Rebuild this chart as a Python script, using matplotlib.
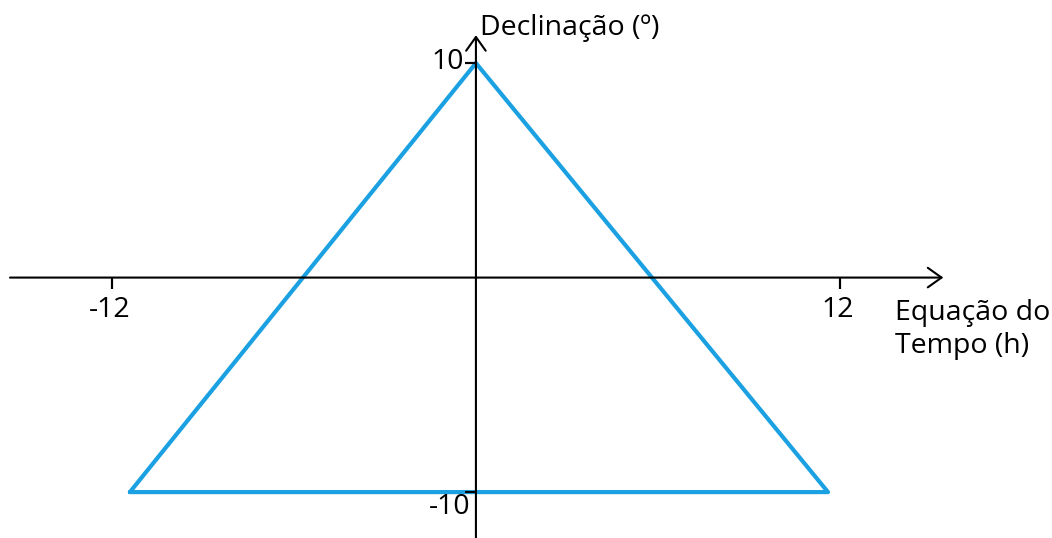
import matplotlib
matplotlib.use('Agg')
import matplotlib.pyplot as plt

# triangle: equation of time (h) vs declination (deg)
eq_tempo = [-11.4, 0.0, 11.6, -11.4]
declinacao = [-10.0, 10.0, -10.0, -10.0]

x_ticks = [-12, 12]
x_tick_labels = ['-12', '12']
y_ticks = [10, -10]
y_tick_labels = ['10', '-10']

x_axis_range = (-15.35, 15.4)
y_axis_range = (-12.2, 11.3)

x_label = 'Equação do\nTempo (h)'
y_label = 'Declinação (º)'

plt.rcParams['font.family'] = ['Open Sans', 'DejaVu Sans']

fig = plt.figure(figsize=(10.52, 5.38), dpi=100)
ax = fig.add_axes([0, 0, 1, 1])
ax.set_xlim(-15.68, 18.98)
ax.set_ylim(-12.14, 12.94)
ax.axis('off')

blue = '#1BA1E2'
ax.plot(eq_tempo, declinacao, color=blue, lw=3, solid_joinstyle='round',
        solid_capstyle='round', zorder=3)

arrow = dict(arrowstyle='->, head_length=0.45, head_width=0.32', lw=1.5,
             color='black', mutation_scale=22, shrinkA=0, shrinkB=0)
ax.annotate('', xy=(x_axis_range[1], 0), xytext=(x_axis_range[0], 0), arrowprops=arrow)
ax.annotate('', xy=(0, y_axis_range[1]), xytext=(0, y_axis_range[0]), arrowprops=arrow)

fs = 20.5

# tick marks
for xt, lab in zip(x_ticks, x_tick_labels):
    ax.plot([xt, xt], [0, 0], marker=3, ms=8, mew=1.5, color='black', zorder=4)
    ax.annotate(lab, xy=(xt, 0), xytext=(-2, -32), textcoords='offset pixels',
                ha='center', va='center', fontsize=fs)
ax.plot([0, 0], [y_ticks[0], y_ticks[0]], marker=0, ms=8, mew=1.5, color='black', zorder=4)
ax.plot([0, 0], [y_ticks[1], y_ticks[1]], marker=0, ms=8, mew=1.5, color='black', zorder=4)
ax.annotate(y_tick_labels[0], xy=(0, y_ticks[0]), xytext=(-12, 1), textcoords='offset pixels',
            ha='right', va='center', fontsize=fs)
ax.annotate(y_tick_labels[1], xy=(0, y_ticks[1]), xytext=(-5, -15), textcoords='offset pixels',
            ha='right', va='center', fontsize=fs)

ax.annotate(y_label, xy=(0, y_axis_range[1]), xytext=(4, 7), textcoords='offset pixels',
            ha='left', va='center', fontsize=fs)
ax.annotate(x_label, xy=(x_axis_range[1], 0), xytext=(-48, -52), textcoords='offset pixels',
            ha='left', va='center', fontsize=fs, linespacing=1.2)

fig.savefig('out.png', dpi=100)
